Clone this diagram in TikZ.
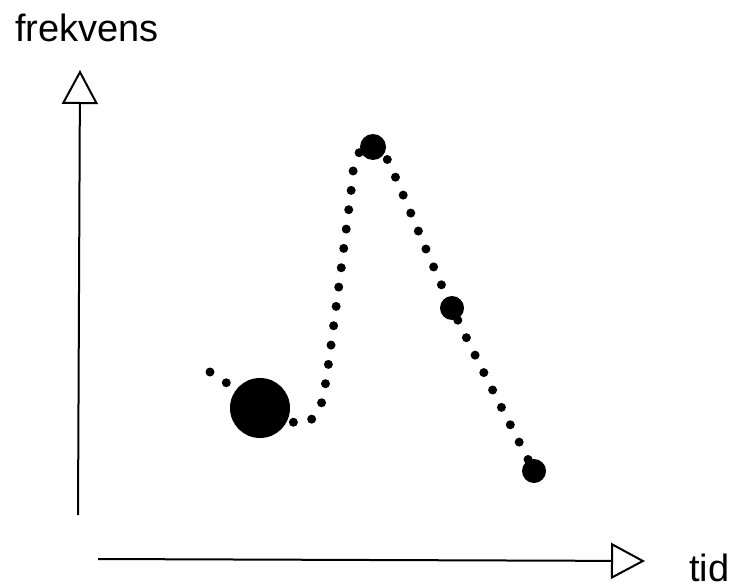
\documentclass[tikz,border=0pt]{standalone}
\usepackage{fontspec}
\setmainfont{Liberation Sans}
\usetikzlibrary{arrows.meta}

\begin{document}
\begin{tikzpicture}[x=1pt, y=-1pt, every node/.style={font=\fontsize{38}{40}\selectfont, inner sep=0pt}, >={Triangle[open, length=34pt, width=36pt]}, dot/.style={circle, fill=black, inner sep=0pt}]
	\useasboundingbox (0,0) rectangle (733,588);
	\node[anchor=base west] (ylabel) at (15,42) {frekvens};
	\node[anchor=base west] (xlabel) at (689,581) {tid};
	\coordinate (ybot) at (78,515);
	\coordinate (ytop) at (80,70);
	\coordinate (xleft) at (98,559);
	\coordinate (xright) at (645,561);
	\draw[->, line width=2pt] (ybot) -- (ytop);
	\draw[->, line width=2pt] (xleft) -- (xright);
	\draw[line width=9pt, line cap=round, dash pattern=on 0pt off 19.5pt] plot[smooth, tension=0.55] coordinates {(210,372) (261,405) (296,423) (314,417) (324,392) (337,300) (350,200) (356,158) (373,145) (389,163) (452,308) (534,471)};
	\node[dot, minimum size=60pt] (first) at (260,408) {};
	\node[dot, minimum size=26pt] (peak) at (373,147) {};
	\node[dot, minimum size=24pt] (middle) at (452,308) {};
	\node[dot, minimum size=24pt] (last) at (534,471) {};
\end{tikzpicture}
\end{document}
